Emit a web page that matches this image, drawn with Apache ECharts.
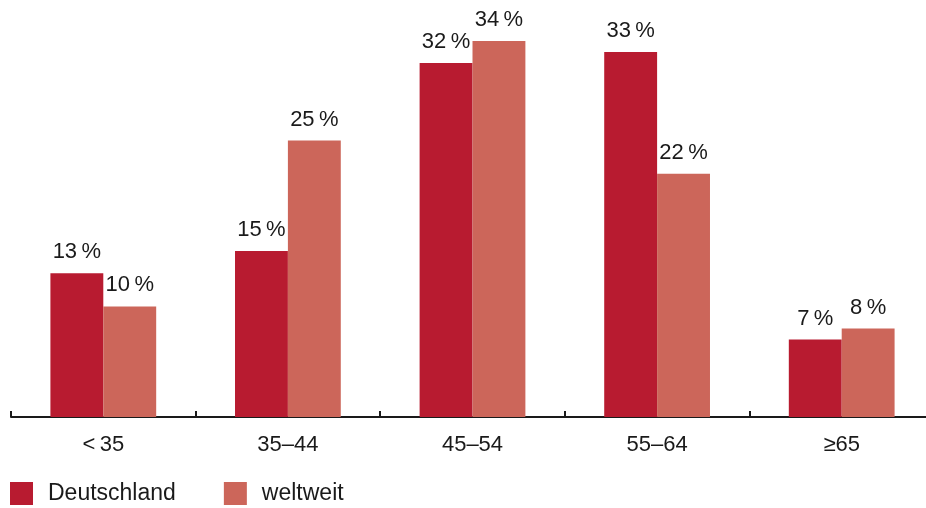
<!DOCTYPE html>
<html>
<head>
<meta charset="utf-8">
<script src="https://cdn.jsdelivr.net/npm/echarts@6/dist/echarts.min.js"></script>
<style>html,body{margin:0;padding:0;background:#fff}#c{width:926px;height:508px}</style>
</head>
<body>
<div id="c"></div>
<script>
const categories = ['<\u200935', '35\u201344', '45\u201354', '55\u201364', '\u226565'];
const seriesNames = ['Deutschland', 'weltweit'];
const deutschland = [13, 15, 32, 33, 7];
const weltweit = [10, 25, 34, 22, 8];
const colors = ['#B81B30', '#CC665A'];

const chart = echarts.init(document.getElementById('c'));
const font = 'Liberation Sans, Arial, Helvetica, sans-serif';
const labelCfg = {
  show: true, position: 'top', distance: 10,
  formatter: p => p.value + '\u2009%',
  color: '#1a1a1a', fontSize: 22, fontFamily: font
};
chart.setOption({
  animation: false,
  textStyle: { fontFamily: font },
  grid: { left: 11, width: 923, top: 41, height: 376, containLabel: false, outerBoundsMode: 'none' },
  legend: {
    left: 10, top: 482, padding: 0, itemWidth: 23, itemHeight: 23, itemGap: 48,
    icon: 'rect',
    textStyle: { fontSize: 23, color: '#1a1a1a', fontFamily: font, padding: [0, 0, 0, 10] },
    data: seriesNames
  },
  xAxis: {
    type: 'category', data: categories,
    axisLine: { lineStyle: { color: '#1a1a1a', width: 2 } },
    axisTick: { show: true, inside: true, length: 6, lineStyle: { color: '#1a1a1a', width: 2 } },
    axisLabel: { fontSize: 22, color: '#1a1a1a', margin: 17, fontFamily: font }
  },
  yAxis: { type: 'value', min: 0, max: 34, show: false, splitLine: { show: false } },
  series: [
    { name: seriesNames[0], type: 'bar', data: deutschland, barGap: '0%', barCategoryGap: '42.7%',
      itemStyle: { color: colors[0] }, label: labelCfg },
    { name: seriesNames[1], type: 'bar', data: weltweit, barGap: '0%', barCategoryGap: '42.7%',
      itemStyle: { color: colors[1] }, label: labelCfg }
  ]
});
</script>
</body>
</html>
